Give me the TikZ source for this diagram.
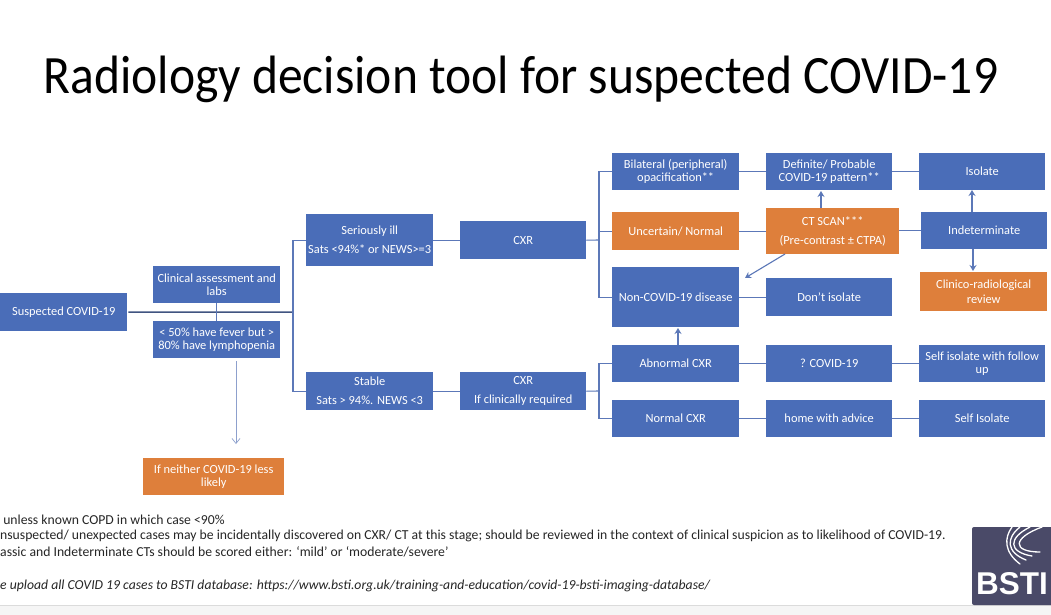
\documentclass[tikz,border=0pt]{standalone}
\usepackage{fontspec}
\setmainfont{Carlito}
\newfontfamily\logofont{Liberation Sans}
\usetikzlibrary{arrows.meta}
\definecolor{bluebox}{HTML}{4A6DB8}
\definecolor{orangebox}{HTML}{DE7F3B}
\definecolor{linec}{HTML}{5C78B8}
\definecolor{logoc}{HTML}{4A4A68}
\tikzset{
  x=1pt,y=-1pt,
  boxbase/.style={draw=none,text=white,font=\fontsize{12.4}{13}\selectfont,align=center,inner sep=0pt,anchor=north west},
  bluenode/.style={boxbase,fill=bluebox},
  orangenode/.style={boxbase,fill=orangebox},
  conn/.style={draw=linec,line width=1.1pt},
  arr/.style={conn,-{Stealth[length=6pt,width=7pt]}},
  note/.style={anchor=west,inner sep=0pt,font=\fontsize{13.7}{15}\selectfont,text=black!85}
}
\newcommand{\bx}[7]{\node[#1,minimum width=#4pt-#2pt,minimum height=#5pt-#3pt] (#6) at (#2,#3) {#7};}
\begin{document}
\begin{tikzpicture}
\useasboundingbox (0,0) rectangle (1051,615);
\fill[white] (0,0) rectangle (1051,615);
\fill[black!4] (0,606) rectangle (1051,615);
\fill[black!14] (0,605) rectangle (1051,606);

\node[anchor=center,inner sep=0pt,font=\fontsize{54}{60}\selectfont,text=black,xscale=.918] (title) at (521,79) {Radiology decision tool for suspected COVID-19};

\bx{bluenode}{0}{293}{127}{331}{susp}{Suspected COVID-19}
\bx{bluenode}{153}{266}{280}{303}{clin}{Clinical assessment and\\labs}
\bx{bluenode}{153}{321}{280}{358}{fever}{< 50\% have fever but >\\80\% have lymphopenia}
\bx{orangenode}{143}{458}{284}{495}{neither}{If neither COVID-19 less\\likely}
\bx{bluenode}{306}{214}{433}{266}{ill}{Seriously ill\\[6pt]Sats <94\%* or NEWS>=3}
\bx{bluenode}{306}{372}{433}{410}{stable}{Stable\\[6pt]Sats > 94\%. NEWS <3}
\bx{bluenode}{460}{221}{586}{259}{cxra}{CXR}
\bx{bluenode}{460}{372}{586}{410}{cxrb}{CXR\\[6pt]If clinically required}
\bx{bluenode}{612}{153}{739}{190}{bilat}{Bilateral (peripheral)\\opacification**}
\bx{orangenode}{612}{212}{739}{250}{uncert}{Uncertain/ Normal}
\bx{bluenode}{612}{267}{739}{327}{noncov}{Non-COVID-19 disease}
\bx{bluenode}{612}{345}{739}{382}{abn}{Abnormal CXR}
\bx{bluenode}{612}{400}{739}{437}{norm}{Normal CXR}
\bx{bluenode}{766}{153}{892}{190}{defin}{Definite/ Probable\\COVID-19 pattern**}
\bx{orangenode}{766}{208}{899}{254}{ct}{CT SCAN***\\[6pt](Pre-contrast ± CTPA)}
\bx{bluenode}{766}{278}{892}{316}{dont}{Don't isolate}
\bx{bluenode}{766}{345}{892}{382}{qcov}{? COVID-19}
\bx{bluenode}{766}{400}{892}{437}{home}{home with advice}
\bx{bluenode}{919}{153}{1045}{190}{iso}{Isolate}
\bx{bluenode}{921}{212}{1047}{249}{indet}{Indeterminate}
\bx{orangenode}{920}{272}{1047}{311}{clinrad}{Clinico-radiological\\[2pt]review}
\bx{bluenode}{919}{345}{1045}{382}{selff}{Self isolate with follow\\up}
\bx{bluenode}{919}{400}{1045}{437}{selfi}{Self Isolate}

\coordinate (trunk) at (293,312);
\draw[conn,line width=1.5pt,draw=linec!70!black] (susp.east) ++(1,0) -- (trunk);
\draw[conn] (clin.south) -- (fever.north);
\draw[conn] (trunk) |- (ill.west);
\draw[conn] (trunk) |- (stable.west);
\draw[-{Straight Barb[length=5pt,width=8pt]},draw=linec!70,line width=.7pt] (236,361) -- (236,444);
\draw[conn] (ill.east) -- (cxra.west);
\draw[conn] (stable.east) -- (cxrb.west);
\coordinate (forka) at (599,240);
\coordinate (forkb) at (599,391);
\draw[conn] (cxra.east) -- (forka);
\draw[conn] (cxrb.east) -- (forkb);
\draw[conn] (forka) |- (bilat.west);
\draw[conn] (forka) |- (uncert.west);
\draw[conn] (forka) |- (noncov.west);
\draw[conn] (forkb) |- (abn.west);
\draw[conn] (forkb) |- (norm.west);
\draw[conn] (bilat.east) -- (defin.west);
\draw[conn] (uncert.east) -- (uncert.east -| ct.west);
\draw[conn] (noncov.east |- dont.west) -- (dont.west);
\draw[conn] (abn.east) -- (qcov.west);
\draw[conn] (norm.east) -- (home.west);
\draw[conn] (defin.east) -- (iso.west);
\draw[conn] (qcov.east) -- (selff.west);
\draw[conn] (home.east) -- (selfi.west);
\draw[conn] (ct.east |- indet.west) -- (indet.west);
\draw[arr] (821,208) -- (821,191);
\draw[arr] (972,212) -- (972,190);
\draw[arr] (973,249) -- (973,271);
\draw[arr] (785,254) -- (745,278);
\draw[arr] (678,345) -- (678,328);

\node[note] (n1) at (0,520) {\ unless known COPD in which case <90\%};
\node[note] (n2) at (0,536) {nsuspected/ unexpected cases may be incidentally discovered on CXR/ CT at this stage; should be reviewed in the context of clinical suspicion as to likelihood of COVID-19.};
\node[note] (n3) at (0,552) {assic and Indeterminate CTs should be scored either: ‘mild’ or ‘moderate/severe’};
\node[note,font=\fontsize{13.7}{15}\selectfont\itshape] (n4) at (0,586) {e upload all COVID 19 cases to BSTI database: https://www.bsti.org.uk/training-and-education/covid-19-bsti-imaging-database/};

\fill[logoc,rounded corners=2pt] (972,527) rectangle (1056,605);
\node[anchor=center,inner sep=0pt,text=white,font=\logofont\fontsize{31.5}{32}\selectfont\bfseries] (bsti) at (1012,584) {BSTI};
\foreach \a/\b/\c/\d in {1012/1004/1020/564, 1020/1006/1026/560, 1030/1008/1032/556, 1042/1012/1040/552}{
  \draw[white,line width=1.3pt,line cap=round] (\a,527) .. controls (\b,538) and (\b,552) .. (\c,\d);
}
\end{tikzpicture}
\end{document}
